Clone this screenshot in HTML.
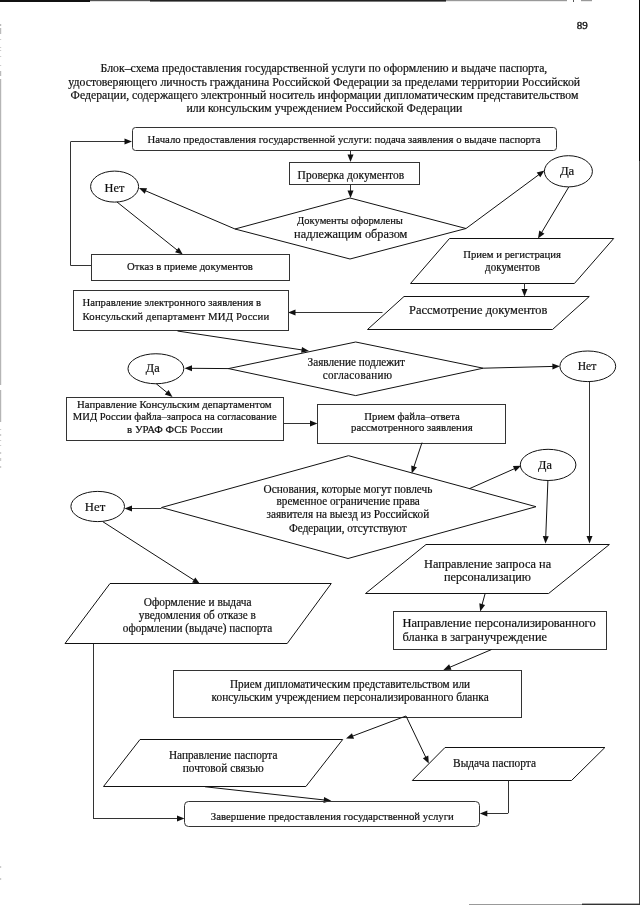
<!DOCTYPE html>
<html><head><meta charset="utf-8"><style>
html,body{margin:0;padding:0;background:#fff;}
body{width:640px;height:905px;overflow:hidden;position:relative;}
svg{position:absolute;left:0;top:0;will-change:transform;}
.s line,.s polyline,.s polygon,.s rect,.s ellipse{fill:none;stroke:#111;stroke-width:1.0;}
.s polygon.ah{fill:#111;stroke:none;}
.s .ax{stroke:#333;}
text{font-family:"Liberation Serif",serif;fill:#111;stroke:#111;stroke-width:0.2;}
</style></head><body>
<svg width="640" height="905" viewBox="0 0 640 905">
<g class="edge">
<rect x="0" y="0" width="90" height="2" fill="#111"/>
<rect x="90" y="0" width="60" height="1.2" fill="#555"/>
<rect x="150" y="0" width="296" height="1.6" fill="#222"/>
<rect x="446" y="0" width="121" height="1.2" fill="#999"/>
<rect x="573" y="0" width="1" height="2" fill="#555"/>
<rect x="581" y="0" width="11" height="1.2" fill="#999"/>
<rect x="639" y="0" width="1" height="161" fill="#0a0a0a"/>
<rect x="639" y="161" width="1" height="744" fill="#4a4a4a"/>
<rect x="469" y="904" width="113" height="1" fill="#999"/>
<rect x="582" y="903.6" width="58" height="1.4" fill="#333"/>
<rect x="0" y="24" width="1.2" height="2" fill="#bbb"/>
<rect x="0" y="28" width="1.2" height="6" fill="#bbb"/>
<rect x="0" y="39" width="1.2" height="1" fill="#ccc"/>
<rect x="0" y="47" width="1.2" height="1" fill="#ccc"/>
<rect x="0" y="50" width="1.2" height="1" fill="#ccc"/>
<rect x="0" y="56" width="1.2" height="1" fill="#ccc"/>
<rect x="0" y="65" width="1.2" height="1" fill="#ccc"/>
<rect x="0" y="71" width="1.2" height="5" fill="#bbb"/>
<rect x="0" y="79" width="1.2" height="306" fill="#b5b5b5"/>
<rect x="0" y="390" width="1.2" height="32" fill="#b5b5b5"/>
<rect x="0" y="429" width="1.2" height="1" fill="#ccc"/>
<rect x="0" y="434" width="1.2" height="2" fill="#ccc"/>
<rect x="0" y="440" width="1.2" height="1" fill="#ccc"/>
<rect x="0" y="445" width="1.2" height="1" fill="#ccc"/>
<rect x="0" y="452" width="1.2" height="2" fill="#ccc"/>
<rect x="0" y="458" width="1.2" height="3" fill="#ccc"/>
<rect x="0" y="466" width="1.2" height="2" fill="#ccc"/>
<rect x="0" y="866" width="1.2" height="2" fill="#ccc"/>
<rect x="0" y="878" width="1.2" height="2" fill="#ccc"/>
</g>
<text x="576.8" y="29.3" font-size="11" style="stroke-width:0.35">89</text>
<g class="s">
<rect class="ax" x="132.5" y="127.5" width="424.0" height="23.0" rx="3"/>
<polyline class="ax" points="91,265.5 70.5,265.5 70.5,141.8"/>
<line class="ax" x1="70.5" y1="141.5" x2="125.5" y2="141.5"/>
<polygon class="ah" points="132.00,141.50 124.50,144.50 124.50,138.50"/>
<line class="ax" x1="350.5" y1="151" x2="350.5" y2="155.5"/>
<polygon class="ah" points="350.50,162.00 347.50,154.50 353.50,154.50"/>
<rect class="ax" x="289.5" y="162.5" width="130.0" height="22.0" rx="0"/>
<line class="ax" x1="350.5" y1="184.5" x2="350.5" y2="191.5"/>
<polygon class="ah" points="350.50,198.00 347.50,190.50 353.50,190.50"/>
<polygon points="350,198 466,228.5 350,259 235,229"/>
<line x1="235" y1="229" x2="144.9776586899708" y2="190.5529583988417"/>
<polygon class="ah" points="139.00,188.00 147.08,188.19 144.72,193.70"/>
<ellipse cx="114.6" cy="186.6" rx="24" ry="15.5"/>
<line x1="117" y1="202" x2="177.72284751928404" y2="250.54136443030913"/>
<polygon class="ah" points="182.80,254.60 175.07,252.26 178.81,247.57"/>
<rect class="ax" x="91.5" y="254.5" width="198.0" height="26.0" rx="0"/>
<line x1="466" y1="228.5" x2="539.2721631453614" y2="174.3626055741278"/>
<polygon class="ah" points="544.50,170.50 540.25,177.37 536.69,172.54"/>
<ellipse cx="568.4" cy="171.3" rx="24" ry="15.6"/>
<line x1="568.75" y1="187" x2="541.3274982810134" y2="233.01629556747022"/>
<polygon class="ah" points="538.00,238.60 539.26,230.62 544.42,233.69"/>
<polygon points="449.5,238.5 613.7,238.5 574.4,283.5 410.5,283.5"/>
<line class="ax" x1="524.5" y1="283.5" x2="524.5" y2="290.0"/>
<polygon class="ah" points="524.50,296.50 521.50,289.00 527.50,289.00"/>
<polygon points="404,296.5 589.25,296.5 552.5,329.5 367.5,329.5"/>
<line class="ax" x1="382.5" y1="312.5" x2="294.5" y2="312.5"/>
<polygon class="ah" points="288.00,312.50 295.50,309.50 295.50,315.50"/>
<rect class="ax" x="73.5" y="290.5" width="215.0" height="40.0" rx="0"/>
<line x1="177.5" y1="331" x2="302.5738985773763" y2="350.0226461714641"/>
<polygon class="ah" points="309.00,351.00 301.13,352.84 302.04,346.91"/>
<polygon points="355.7,342 483.2,368.2 355.7,395.6 228.5,368.6"/>
<line x1="229" y1="368.6" x2="190.99979896147977" y2="368.3011220143038"/>
<polygon class="ah" points="184.50,368.25 192.02,365.31 191.98,371.31"/>
<ellipse cx="155.9" cy="368.75" rx="27.9" ry="15"/>
<line x1="156.25" y1="383.75" x2="167.4623785292604" y2="392.8924009546277"/>
<polygon class="ah" points="172.50,397.00 164.79,394.59 168.58,389.94"/>
<rect class="ax" x="66.5" y="397.5" width="217.0" height="43.0" rx="0"/>
<line class="ax" x1="283.75" y1="423.5" x2="311.0" y2="423.5"/>
<polygon class="ah" points="317.50,423.50 310.00,426.50 310.00,420.50"/>
<rect class="ax" x="317.5" y="404.5" width="188.0" height="39.0" rx="0"/>
<line x1="483.2" y1="368.2" x2="553.4020996716446" y2="366.4152008558056"/>
<polygon class="ah" points="559.90,366.25 552.48,369.44 552.33,363.44"/>
<ellipse cx="587.8" cy="366.3" rx="27.9" ry="15.3"/>
<line class="ax" x1="589.5" y1="381.6" x2="589.5" y2="536.9"/>
<polygon class="ah" points="589.50,543.40 586.50,535.90 592.50,535.90"/>
<line x1="422" y1="442.6" x2="413.75548047910945" y2="467.33355856267167"/>
<polygon class="ah" points="411.70,473.50 411.23,465.44 416.92,467.33"/>
<polygon points="348.5,455.7 536,506.7 348,558.5 161.5,507.5"/>
<line class="ax" x1="161.5" y1="508.5" x2="131.0" y2="508.5"/>
<polygon class="ah" points="124.50,508.50 132.00,505.50 132.00,511.50"/>
<ellipse cx="97.7" cy="506.5" rx="26.8" ry="15.1"/>
<line x1="102.7" y1="521.6" x2="194.52850631515344" y2="580.4910461877242"/>
<polygon class="ah" points="200.00,584.00 192.07,582.48 195.31,577.43"/>
<polygon points="110,583.5 331.25,583.5 287.2,643.5 65,643.5"/>
<line x1="469.4" y1="488.7" x2="515.0588013923201" y2="468.43669473092774"/>
<polygon class="ah" points="521.00,465.80 515.36,471.58 512.93,466.10"/>
<ellipse cx="548.1" cy="464.9" rx="27.8" ry="15.6"/>
<line x1="547.9" y1="480.5" x2="545.7470479928764" y2="537.1046965206224"/>
<polygon class="ah" points="545.50,543.60 542.79,535.99 548.78,536.22"/>
<polygon points="426,544.5 609.4,544.5 548.6,593.5 365.5,593.5"/>
<line x1="485" y1="594" x2="481.92853848781783" y2="605.1340479816605"/>
<polygon class="ah" points="480.20,611.40 479.30,603.37 485.09,604.97"/>
<rect class="ax" x="393.5" y="611.5" width="213.0" height="38.0" rx="0"/>
<line x1="491.6" y1="649.5" x2="449.38148067723" y2="667.4560092555349"/>
<polygon class="ah" points="443.40,670.00 449.13,664.30 451.48,669.83"/>
<rect class="ax" x="173.5" y="670.5" width="348.0" height="47.0" rx="0"/>
<line x1="406" y1="716" x2="352.08280012299895" y2="736.3088119536704"/>
<polygon class="ah" points="346.00,738.60 351.96,733.15 354.08,738.76"/>
<line x1="406" y1="716" x2="425.9920535138165" y2="757.7377959323537"/>
<polygon class="ah" points="428.80,763.60 422.85,758.13 428.27,755.54"/>
<polygon points="140,739.5 342.7,739.5 305.9,786.5 103.5,786.5"/>
<polygon points="445,747.5 604.9,747.5 571.5,780.5 412.3,780.5"/>
<line x1="205" y1="786.75" x2="324.78959986657867" y2="800.0335991931255"/>
<polygon class="ah" points="331.25,800.75 323.47,802.91 324.13,796.94"/>
<polyline class="ax" points="508.5,780.5 508.5,813.2"/>
<line class="ax" x1="508" y1="813.5" x2="486.3" y2="813.5"/>
<polygon class="ah" points="479.80,813.50 487.30,810.50 487.30,816.50"/>
<polyline class="ax" points="93.5,644 93.5,818"/>
<line class="ax" x1="93" y1="818.5" x2="178.0" y2="818.5"/>
<polygon class="ah" points="184.50,818.50 177.00,821.50 177.00,815.50"/>
<rect class="ax" x="184.5" y="801.5" width="295.0" height="25.0" rx="4"/>
</g>
<text transform="translate(100.60,71.9) scale(1,1.06)" font-size="11.75" textLength="446.70" lengthAdjust="spacingAndGlyphs">Блок–схема предоставления государственной услуги по оформлению и выдаче паспорта,</text>
<text transform="translate(68.35,85.7) scale(1,1.06)" font-size="11.77" textLength="511.75" lengthAdjust="spacingAndGlyphs">удостоверяющего личность гражданина Российской Федерации за пределами территории Российской</text>
<text transform="translate(70.60,98.8) scale(1,1.06)" font-size="11.75" textLength="507.80" lengthAdjust="spacingAndGlyphs">Федерации, содержащего электронный носитель информации дипломатическим представительством</text>
<text transform="translate(186.50,111.8) scale(1,1.06)" font-size="11.77" textLength="275.80" lengthAdjust="spacingAndGlyphs">или консульским учреждением Российской Федерации</text>
<text transform="translate(147.60,143) scale(1,1.06)" font-size="10.72" textLength="392.80" lengthAdjust="spacingAndGlyphs">Начало предоставления государственной услуги: подача заявления о выдаче паспорта</text>
<text transform="translate(297.60,178.75) scale(1,1.06)" font-size="11.41" textLength="106.55" lengthAdjust="spacingAndGlyphs">Проверка документов</text>
<text transform="translate(104.60,191.6) scale(1,1.06)" font-size="11.85" textLength="19.80" lengthAdjust="spacingAndGlyphs">Нет</text>
<text transform="translate(297.10,223.6) scale(1,1.06)" font-size="10.47" textLength="105.80" lengthAdjust="spacingAndGlyphs">Документы оформлены</text>
<text transform="translate(294.10,237.5) scale(1,1.06)" font-size="12.22" textLength="113.30" lengthAdjust="spacingAndGlyphs">надлежащим образом</text>
<text transform="translate(127.10,269.5) scale(1,1.06)" font-size="10.63" textLength="125.80" lengthAdjust="spacingAndGlyphs">Отказ в приеме документов</text>
<text transform="translate(559.90,175.1) scale(1,1.06)" font-size="12.08" textLength="14.40" lengthAdjust="spacingAndGlyphs">Да</text>
<text transform="translate(463.30,258) scale(1,1.06)" font-size="10.61" textLength="97.60" lengthAdjust="spacingAndGlyphs">Прием и регистрация</text>
<text transform="translate(485.10,271) scale(1,1.06)" font-size="10.85" textLength="54.80" lengthAdjust="spacingAndGlyphs">документов</text>
<text transform="translate(409.10,314) scale(1,1.06)" font-size="12.34" textLength="138.30" lengthAdjust="spacingAndGlyphs">Рассмотрение документов</text>
<text transform="translate(82.60,305.75) scale(1,1.06)" font-size="10.62" textLength="178.55" lengthAdjust="spacingAndGlyphs">Направление электронного заявления в</text>
<text transform="translate(82.60,319.6) scale(1,1.06)" font-size="10.75" textLength="186.55" lengthAdjust="spacing">Консульский департамент МИД России</text>
<text transform="translate(307.60,365.6) scale(1,1.06)" font-size="11.10" textLength="97.30" lengthAdjust="spacingAndGlyphs">Заявление подлежит</text>
<text transform="translate(322.70,378.7) scale(1,1.06)" font-size="11.10" textLength="69.40" lengthAdjust="spacing">согласованию</text>
<text transform="translate(145.85,371.75) scale(1,1.06)" font-size="11.54" textLength="13.80" lengthAdjust="spacingAndGlyphs">Да</text>
<text transform="translate(577.70,370) scale(1,1.06)" font-size="11.10" textLength="18.60" lengthAdjust="spacingAndGlyphs">Нет</text>
<text transform="translate(77.10,407.5) scale(1,1.06)" font-size="10.70" textLength="194.55" lengthAdjust="spacingAndGlyphs">Направление Консульским департаментом</text>
<text transform="translate(72.85,420.4) scale(1,1.06)" font-size="10.55" textLength="203.80" lengthAdjust="spacingAndGlyphs">МИД России файла–запроса на согласование</text>
<text transform="translate(127.10,432.5) scale(1,1.06)" font-size="10.73" textLength="95.80" lengthAdjust="spacingAndGlyphs">в УРАФ ФСБ России</text>
<text transform="translate(364.30,420) scale(1,1.06)" font-size="10.67" textLength="95.60" lengthAdjust="spacingAndGlyphs">Прием файла–ответа</text>
<text transform="translate(351.10,431.4) scale(1,1.06)" font-size="10.70" textLength="121.50" lengthAdjust="spacingAndGlyphs">рассмотренного заявления</text>
<text transform="translate(263.60,492.7) scale(1,1.06)" font-size="11.24" textLength="168.80" lengthAdjust="spacingAndGlyphs">Основания, которые могут повлечь</text>
<text transform="translate(276.50,505.3) scale(1,1.06)" font-size="11.14" textLength="143.30" lengthAdjust="spacingAndGlyphs">временное ограничение права</text>
<text transform="translate(266.50,518.3) scale(1,1.06)" font-size="11.19" textLength="162.65" lengthAdjust="spacingAndGlyphs">заявителя на выезд из Российской</text>
<text transform="translate(289.00,531.7) scale(1,1.06)" font-size="11.10" textLength="117.65" lengthAdjust="spacingAndGlyphs">Федерации, отсутствуют</text>
<text transform="translate(84.80,510.6) scale(1,1.06)" font-size="12.23" textLength="20.40" lengthAdjust="spacingAndGlyphs">Нет</text>
<text transform="translate(538.10,469.2) scale(1,1.06)" font-size="11.54" textLength="13.80" lengthAdjust="spacingAndGlyphs">Да</text>
<text transform="translate(424.10,567.5) scale(1,1.06)" font-size="12.24" textLength="127.05" lengthAdjust="spacingAndGlyphs">Направление запроса на</text>
<text transform="translate(443.90,581.2) scale(1,1.06)" font-size="12.15" textLength="87.10" lengthAdjust="spacingAndGlyphs">персонализацию</text>
<text transform="translate(402.60,627.1) scale(1,1.06)" font-size="12.38" textLength="193.00" lengthAdjust="spacingAndGlyphs">Направление персонализированного</text>
<text transform="translate(402.60,641) scale(1,1.06)" font-size="12.29" textLength="144.40" lengthAdjust="spacingAndGlyphs">бланка в загранучреждение</text>
<text transform="translate(143.80,606.3) scale(1,1.06)" font-size="11.27" textLength="107.70" lengthAdjust="spacingAndGlyphs">Оформление и выдача</text>
<text transform="translate(138.80,619.2) scale(1,1.06)" font-size="11.18" textLength="117.10" lengthAdjust="spacingAndGlyphs">уведомления об отказе в</text>
<text transform="translate(122.80,632.3) scale(1,1.06)" font-size="11.16" textLength="149.50" lengthAdjust="spacingAndGlyphs">оформлении (выдаче) паспорта</text>
<text transform="translate(230.00,687.7) scale(1,1.06)" font-size="11.18" textLength="240.10" lengthAdjust="spacingAndGlyphs">Прием дипломатическим представительством или</text>
<text transform="translate(211.60,700.8) scale(1,1.06)" font-size="11.27" textLength="277.10" lengthAdjust="spacingAndGlyphs">консульским учреждением персонализированного бланка</text>
<text transform="translate(168.90,758.5) scale(1,1.06)" font-size="11.18" textLength="108.50" lengthAdjust="spacingAndGlyphs">Направление паспорта</text>
<text transform="translate(182.70,771.5) scale(1,1.06)" font-size="11.22" textLength="81.00" lengthAdjust="spacingAndGlyphs">почтовой связью</text>
<text transform="translate(453.10,767) scale(1,1.06)" font-size="11.27" textLength="82.90" lengthAdjust="spacingAndGlyphs">Выдача паспорта</text>
<text transform="translate(210.85,820) scale(1,1.06)" font-size="10.71" textLength="242.95" lengthAdjust="spacingAndGlyphs">Завершение предоставления государственной услуги</text>
</svg>
</body></html>
